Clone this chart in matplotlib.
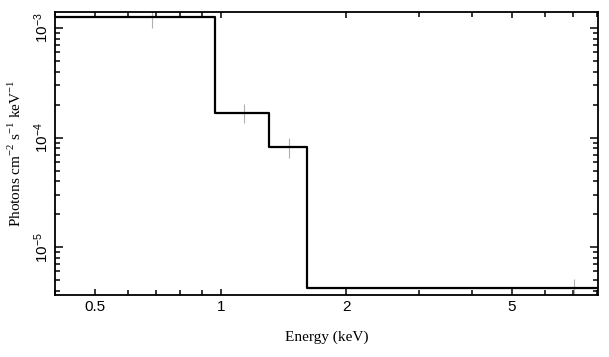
import matplotlib
matplotlib.use('Agg')
import matplotlib.pyplot as plt
from matplotlib.ticker import FixedLocator, FuncFormatter, LogLocator, NullFormatter
import numpy as np

plt.rcParams['mathtext.fontset'] = 'custom'
plt.rcParams['mathtext.rm'] = 'Liberation Serif'
plt.rcParams['mathtext.sf'] = 'Liberation Sans'

# bin edges (keV) and unfolded flux per bin
bin_edges = [0.4, 0.967, 1.305, 1.61, 12.5]
model_flux = [1.27e-3, 1.69e-4, 8.28e-5, 4.24e-6]
data_flux = [1.27e-3, 1.69e-4, 8.28e-5, 4.24e-6]
data_err = [2.7e-4, 3.4e-5, 1.7e-5, 8.8e-7]

x_ticks = [0.5, 1, 2, 5]
x_labels = ['0.5', '1', '2', '5']

fig = plt.figure(figsize=(6.09, 3.57), dpi=100)
ax = fig.add_axes([0.0903, 0.1737, 0.8917, 0.7923])

edges = np.array(bin_edges)
centers = (edges[:-1] + edges[1:]) / 2
xerr = [centers - edges[:-1], edges[1:] - centers]
ax.errorbar(centers, data_flux, xerr=xerr, yerr=data_err, fmt='none',
            ecolor='#b0b0b0', elinewidth=0.8, capsize=0)

steps_y = list(model_flux) + [model_flux[-1]]
ax.step(edges, steps_y, where='post', color='black', lw=1.6)

ax.set_xscale('log')
ax.set_yscale('log')
ax.set_xlim(0.4, 8.05)
ax.set_ylim(3.66e-6, 1.4e-3)

ax.xaxis.set_major_locator(FixedLocator(x_ticks))
ax.xaxis.set_major_formatter(FuncFormatter(lambda v, p: x_labels[x_ticks.index(v)] if v in x_ticks else ''))
ax.xaxis.set_minor_locator(LogLocator(base=10, subs=np.arange(2, 10)))
ax.xaxis.set_minor_formatter(NullFormatter())

ax.yaxis.set_major_locator(LogLocator(base=10, numticks=10))
ax.yaxis.set_major_formatter(FuncFormatter(lambda v, p: r'$\mathsf{10^{%d}}$' % round(np.log10(v))))
ax.yaxis.set_minor_locator(LogLocator(base=10, subs=np.arange(2, 10), numticks=20))
ax.yaxis.set_minor_formatter(NullFormatter())

ax.tick_params(which='both', direction='in', top=True, right=True, width=1.1, labelsize=11)
ax.tick_params(which='major', length=6)
ax.tick_params(which='minor', length=3.5)
ax.tick_params(axis='x', which='major', length=4.5)
for lab in ax.get_xticklabels():
    lab.set_family('Liberation Sans')
for lab in ax.get_yticklabels():
    lab.set_rotation(90)
    lab.set_va('center')
ax.tick_params(axis='y', pad=3)

for s in ax.spines.values():
    s.set_linewidth(1.3)

ax.set_xlabel('Energy (keV)', family='Liberation Serif', fontsize=11, labelpad=12)
ax.set_ylabel(r'Photons cm$^{-2}$ s$^{-1}$ keV$^{-1}$', family='Liberation Serif', fontsize=11, labelpad=6)

plt.savefig('out.png')
plt.close()
